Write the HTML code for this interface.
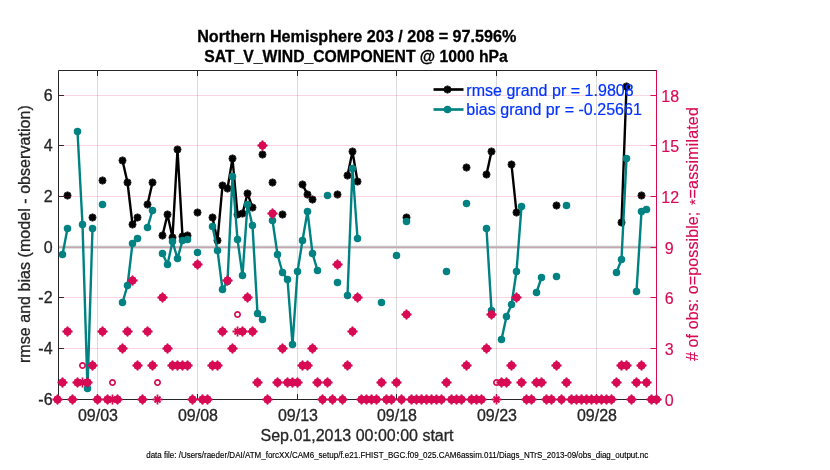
<!DOCTYPE html>
<html><head><meta charset="utf-8"><title>obs diag</title>
<style>html,body{margin:0;padding:0;background:#fff;width:830px;height:470px;overflow:hidden}</style>
</head><body>
<svg width="830" height="470" viewBox="0 0 830 470" style="position:absolute;left:0;top:0">
<defs>
<g id="a" stroke="#d70a53" stroke-width="1.8" fill="none"><path d="M-5 0H5M0 -5V5M-3 -3L3 3M-3 3L3 -3"/></g>
<circle id="c" r="2.65" stroke="#d70a53" stroke-width="1.7" fill="none"/>
<g id="d"><circle r="3.4" fill="#d70a53"/><path d="M-5 0L0 -5L5 0L0 5Z" fill="#d70a53"/><use href="#a"/></g>
<g id="b"><circle r="3.3" fill="#000"/><path d="M-3.9 0H3.9M0 -3.9V3.9M-2.85 -2.85L2.85 2.85M-2.85 2.85L2.85 -2.85" stroke="#000" stroke-width="2"/></g>
<circle id="t" r="3.75" fill="#008282"/>
</defs>
<rect width="830" height="470" fill="#fff"/>
<line x1="97.5" y1="70.5" x2="97.5" y2="399.5" stroke="#000" stroke-opacity="0.14"/>
<line x1="197.5" y1="70.5" x2="197.5" y2="399.5" stroke="#000" stroke-opacity="0.14"/>
<line x1="297.5" y1="70.5" x2="297.5" y2="399.5" stroke="#000" stroke-opacity="0.14"/>
<line x1="396.5" y1="70.5" x2="396.5" y2="399.5" stroke="#000" stroke-opacity="0.14"/>
<line x1="496.5" y1="70.5" x2="496.5" y2="399.5" stroke="#000" stroke-opacity="0.14"/>
<line x1="596.5" y1="70.5" x2="596.5" y2="399.5" stroke="#000" stroke-opacity="0.14"/>
<line x1="58.5" y1="247" x2="656.5" y2="247" stroke="#c4c4c4" stroke-width="2.75"/>
<path d="M122.50 160.50L127.50 182.50L132.50 224.50L137.50 217.50M147.50 204.50L152.50 182.50M162.50 235.50L167.50 214.50L172.50 237.50L177.50 149.50L182.50 236.50L187.50 235.50M212.50 217.50L217.50 240.50L222.50 185.50L227.50 188.50L232.50 158.50L237.50 214.50L242.50 213.50L247.50 193.50L252.50 207.50M302.50 184.50L307.50 194.50L312.50 199.50M347.50 175.50L352.50 151.50L357.50 181.50M486.50 174.50L491.50 151.50M511.50 164.50L516.50 212.50M621.50 222.50L626.50 86.50" fill="none" stroke="#000" stroke-width="2.4" stroke-linejoin="round"/>
<use href="#b" x="67.50" y="195.50"/>
<use href="#b" x="92.50" y="217.50"/>
<use href="#b" x="102.50" y="180.50"/>
<use href="#b" x="122.50" y="160.50"/>
<use href="#b" x="127.50" y="182.50"/>
<use href="#b" x="132.50" y="224.50"/>
<use href="#b" x="137.50" y="217.50"/>
<use href="#b" x="147.50" y="204.50"/>
<use href="#b" x="152.50" y="182.50"/>
<use href="#b" x="162.50" y="235.50"/>
<use href="#b" x="167.50" y="214.50"/>
<use href="#b" x="172.50" y="237.50"/>
<use href="#b" x="177.50" y="149.50"/>
<use href="#b" x="182.50" y="236.50"/>
<use href="#b" x="187.50" y="235.50"/>
<use href="#b" x="197.50" y="212.50"/>
<use href="#b" x="212.50" y="217.50"/>
<use href="#b" x="217.50" y="240.50"/>
<use href="#b" x="222.50" y="185.50"/>
<use href="#b" x="227.50" y="188.50"/>
<use href="#b" x="232.50" y="158.50"/>
<use href="#b" x="237.50" y="214.50"/>
<use href="#b" x="242.50" y="213.50"/>
<use href="#b" x="247.50" y="193.50"/>
<use href="#b" x="252.50" y="207.50"/>
<use href="#b" x="262.50" y="154.50"/>
<use href="#b" x="272.50" y="182.50"/>
<use href="#b" x="282.50" y="214.50"/>
<use href="#b" x="302.50" y="184.50"/>
<use href="#b" x="307.50" y="194.50"/>
<use href="#b" x="312.50" y="199.50"/>
<use href="#b" x="337.50" y="194.50"/>
<use href="#b" x="347.50" y="175.50"/>
<use href="#b" x="352.50" y="151.50"/>
<use href="#b" x="357.50" y="181.50"/>
<use href="#b" x="406.50" y="217.50"/>
<use href="#b" x="466.50" y="167.50"/>
<use href="#b" x="486.50" y="174.50"/>
<use href="#b" x="491.50" y="151.50"/>
<use href="#b" x="511.50" y="164.50"/>
<use href="#b" x="516.50" y="212.50"/>
<use href="#b" x="556.50" y="205.50"/>
<use href="#b" x="621.50" y="222.50"/>
<use href="#b" x="626.50" y="86.50"/>
<use href="#b" x="641.50" y="195.50"/>
<path d="M62.50 254.50L67.50 228.50M77.50 131.50L82.50 224.50L87.50 388.50L92.50 228.50M122.50 302.50L127.50 285.50L132.50 243.50L137.50 238.50M147.50 227.50L152.50 210.50M162.50 253.50L167.50 264.50L172.50 241.50L177.50 258.50L182.50 240.50L187.50 239.50M212.50 226.50L217.50 250.50L222.50 289.50L227.50 281.50L232.50 176.50L237.50 239.50L242.50 275.50L247.50 204.50L252.50 225.50L257.50 313.50L262.50 319.50M272.50 220.50L277.50 254.50L282.50 272.50L287.50 279.50L292.50 344.50L297.50 271.50L302.50 240.50L307.50 211.50L312.50 253.50L317.50 270.50M347.50 295.50L352.50 168.50L357.50 238.50M486.50 228.50L491.50 310.50M501.50 339.50L506.50 316.50L511.50 304.50L516.50 271.50L521.50 206.50M536.50 292.50L541.50 277.50M616.50 272.50L621.50 259.50L626.50 158.50M636.50 291.50L641.50 211.50L646.50 209.50" fill="none" stroke="#008282" stroke-width="2.4" stroke-linejoin="round"/>
<use href="#t" x="62.50" y="254.50"/>
<use href="#t" x="67.50" y="228.50"/>
<use href="#t" x="77.50" y="131.50"/>
<use href="#t" x="82.50" y="224.50"/>
<use href="#t" x="87.50" y="388.50"/>
<use href="#t" x="92.50" y="228.50"/>
<use href="#t" x="102.50" y="204.50"/>
<use href="#t" x="122.50" y="302.50"/>
<use href="#t" x="127.50" y="285.50"/>
<use href="#t" x="132.50" y="243.50"/>
<use href="#t" x="137.50" y="238.50"/>
<use href="#t" x="147.50" y="227.50"/>
<use href="#t" x="152.50" y="210.50"/>
<use href="#t" x="162.50" y="253.50"/>
<use href="#t" x="167.50" y="264.50"/>
<use href="#t" x="172.50" y="241.50"/>
<use href="#t" x="177.50" y="258.50"/>
<use href="#t" x="182.50" y="240.50"/>
<use href="#t" x="187.50" y="239.50"/>
<use href="#t" x="197.50" y="252.50"/>
<use href="#t" x="212.50" y="226.50"/>
<use href="#t" x="217.50" y="250.50"/>
<use href="#t" x="222.50" y="289.50"/>
<use href="#t" x="227.50" y="281.50"/>
<use href="#t" x="232.50" y="176.50"/>
<use href="#t" x="237.50" y="239.50"/>
<use href="#t" x="242.50" y="275.50"/>
<use href="#t" x="247.50" y="204.50"/>
<use href="#t" x="252.50" y="225.50"/>
<use href="#t" x="257.50" y="313.50"/>
<use href="#t" x="262.50" y="319.50"/>
<use href="#t" x="272.50" y="220.50"/>
<use href="#t" x="277.50" y="254.50"/>
<use href="#t" x="282.50" y="272.50"/>
<use href="#t" x="287.50" y="279.50"/>
<use href="#t" x="292.50" y="344.50"/>
<use href="#t" x="297.50" y="271.50"/>
<use href="#t" x="302.50" y="240.50"/>
<use href="#t" x="307.50" y="211.50"/>
<use href="#t" x="312.50" y="253.50"/>
<use href="#t" x="317.50" y="270.50"/>
<use href="#t" x="327.50" y="195.50"/>
<use href="#t" x="337.50" y="282.50"/>
<use href="#t" x="347.50" y="295.50"/>
<use href="#t" x="352.50" y="168.50"/>
<use href="#t" x="357.50" y="238.50"/>
<use href="#t" x="381.50" y="302.50"/>
<use href="#t" x="396.50" y="255.50"/>
<use href="#t" x="406.50" y="221.50"/>
<use href="#t" x="446.50" y="271.50"/>
<use href="#t" x="466.50" y="203.50"/>
<use href="#t" x="486.50" y="228.50"/>
<use href="#t" x="491.50" y="310.50"/>
<use href="#t" x="501.50" y="339.50"/>
<use href="#t" x="506.50" y="316.50"/>
<use href="#t" x="511.50" y="304.50"/>
<use href="#t" x="516.50" y="271.50"/>
<use href="#t" x="521.50" y="206.50"/>
<use href="#t" x="536.50" y="292.50"/>
<use href="#t" x="541.50" y="277.50"/>
<use href="#t" x="556.50" y="276.50"/>
<use href="#t" x="566.50" y="205.50"/>
<use href="#t" x="616.50" y="272.50"/>
<use href="#t" x="621.50" y="259.50"/>
<use href="#t" x="626.50" y="158.50"/>
<use href="#t" x="636.50" y="291.50"/>
<use href="#t" x="641.50" y="211.50"/>
<use href="#t" x="646.50" y="209.50"/>
<path d="M58.5 399.5V70.5H656.5M58.5 399.5H656.5" fill="none" stroke="#262626" stroke-width="1"/>
<path d="M97.5 399.5v-5.5M97.5 70.5v5.5M197.5 399.5v-5.5M197.5 70.5v5.5M297.5 399.5v-5.5M297.5 70.5v5.5M396.5 399.5v-5.5M396.5 70.5v5.5M496.5 399.5v-5.5M496.5 70.5v5.5M596.5 399.5v-5.5M596.5 70.5v5.5M58.5 95.5h5.5M58.5 145.5h5.5M58.5 196.5h5.5M58.5 297.5h5.5M58.5 348.5h5.5M58.5 399.5h5.5" stroke="#262626" stroke-width="1" fill="none"/>
<line x1="59.0" y1="95.5" x2="656.0" y2="95.5" stroke="#d70a53" stroke-opacity="0.17"/>
<line x1="59.0" y1="145.5" x2="656.0" y2="145.5" stroke="#d70a53" stroke-opacity="0.17"/>
<line x1="59.0" y1="196.5" x2="656.0" y2="196.5" stroke="#d70a53" stroke-opacity="0.17"/>
<line x1="59.0" y1="247.5" x2="656.0" y2="247.5" stroke="#d70a53" stroke-opacity="0.17"/>
<line x1="59.0" y1="297.5" x2="656.0" y2="297.5" stroke="#d70a53" stroke-opacity="0.17"/>
<line x1="59.0" y1="348.5" x2="656.0" y2="348.5" stroke="#d70a53" stroke-opacity="0.17"/>
<line x1="656.5" y1="70.0" x2="656.5" y2="400.0" stroke="#d70a53"/>
<path d="M656.5 399.5h-6M656.5 348.5h-6M656.5 297.5h-6M656.5 247.5h-6M656.5 196.5h-6M656.5 145.5h-6M656.5 95.5h-6" stroke="#d70a53" stroke-width="1" fill="none"/>
<line x1="433.5" y1="89.5" x2="463.5" y2="89.5" stroke="#000" stroke-width="2.67"/><use href="#b" x="447.5" y="89.5"/>
<line x1="433.5" y1="109.5" x2="463.5" y2="109.5" stroke="#008282" stroke-width="2.67"/><use href="#t" x="447.5" y="109.5"/>
<use href="#d" x="57.50" y="399.50"/>
<use href="#d" x="62.50" y="382.50"/>
<use href="#d" x="67.50" y="331.50"/>
<use href="#d" x="72.50" y="399.50"/>
<use href="#d" x="77.50" y="382.50"/>
<use href="#c" x="82.50" y="365.50"/>
<use href="#a" x="82.50" y="382.50"/>
<use href="#d" x="87.50" y="382.50"/>
<use href="#d" x="92.50" y="365.50"/>
<use href="#d" x="97.50" y="399.50"/>
<use href="#d" x="102.50" y="331.50"/>
<use href="#d" x="107.50" y="399.50"/>
<use href="#c" x="112.50" y="382.50"/>
<use href="#a" x="112.50" y="399.50"/>
<use href="#d" x="117.50" y="399.50"/>
<use href="#d" x="122.50" y="348.50"/>
<use href="#d" x="127.50" y="331.50"/>
<use href="#d" x="132.50" y="280.50"/>
<use href="#d" x="137.50" y="365.50"/>
<use href="#d" x="142.50" y="399.50"/>
<use href="#d" x="147.50" y="331.50"/>
<use href="#d" x="152.50" y="365.50"/>
<use href="#c" x="157.50" y="382.50"/>
<use href="#a" x="157.50" y="399.50"/>
<use href="#d" x="162.50" y="297.50"/>
<use href="#d" x="167.50" y="348.50"/>
<use href="#d" x="172.50" y="365.50"/>
<use href="#d" x="177.50" y="365.50"/>
<use href="#d" x="182.50" y="365.50"/>
<use href="#d" x="187.50" y="365.50"/>
<use href="#d" x="192.50" y="399.50"/>
<use href="#d" x="197.50" y="264.50"/>
<use href="#d" x="202.50" y="399.50"/>
<use href="#d" x="207.50" y="399.50"/>
<use href="#d" x="212.50" y="365.50"/>
<use href="#d" x="217.50" y="365.50"/>
<use href="#d" x="222.50" y="331.50"/>
<use href="#d" x="227.50" y="280.50"/>
<use href="#d" x="232.50" y="348.50"/>
<use href="#c" x="237.50" y="314.50"/>
<use href="#a" x="237.50" y="331.50"/>
<use href="#d" x="242.50" y="331.50"/>
<use href="#d" x="247.50" y="297.50"/>
<use href="#d" x="252.50" y="331.50"/>
<use href="#d" x="257.50" y="382.50"/>
<use href="#d" x="262.50" y="145.50"/>
<use href="#d" x="267.50" y="399.50"/>
<use href="#d" x="272.50" y="213.50"/>
<use href="#d" x="277.50" y="382.50"/>
<use href="#d" x="282.50" y="348.50"/>
<use href="#d" x="287.50" y="382.50"/>
<use href="#d" x="292.50" y="382.50"/>
<use href="#d" x="297.50" y="382.50"/>
<use href="#d" x="302.50" y="365.50"/>
<use href="#d" x="307.50" y="365.50"/>
<use href="#d" x="312.50" y="348.50"/>
<use href="#d" x="317.50" y="382.50"/>
<use href="#d" x="322.50" y="399.50"/>
<use href="#d" x="327.50" y="382.50"/>
<use href="#d" x="332.50" y="399.50"/>
<use href="#d" x="337.50" y="264.50"/>
<use href="#d" x="342.50" y="399.50"/>
<use href="#d" x="347.50" y="365.50"/>
<use href="#d" x="352.50" y="331.50"/>
<use href="#d" x="357.50" y="297.50"/>
<use href="#d" x="361.50" y="399.50"/>
<use href="#d" x="366.50" y="399.50"/>
<use href="#d" x="371.50" y="399.50"/>
<use href="#d" x="376.50" y="399.50"/>
<use href="#d" x="381.50" y="382.50"/>
<use href="#d" x="386.50" y="399.50"/>
<use href="#d" x="391.50" y="399.50"/>
<use href="#d" x="396.50" y="382.50"/>
<use href="#d" x="401.50" y="399.50"/>
<use href="#d" x="406.50" y="314.50"/>
<use href="#d" x="411.50" y="399.50"/>
<use href="#d" x="416.50" y="399.50"/>
<use href="#d" x="421.50" y="399.50"/>
<use href="#d" x="426.50" y="399.50"/>
<use href="#d" x="431.50" y="399.50"/>
<use href="#d" x="436.50" y="399.50"/>
<use href="#d" x="441.50" y="399.50"/>
<use href="#d" x="446.50" y="382.50"/>
<use href="#d" x="451.50" y="399.50"/>
<use href="#d" x="456.50" y="399.50"/>
<use href="#d" x="461.50" y="399.50"/>
<use href="#d" x="466.50" y="365.50"/>
<use href="#d" x="471.50" y="399.50"/>
<use href="#d" x="476.50" y="399.50"/>
<use href="#d" x="481.50" y="399.50"/>
<use href="#d" x="486.50" y="348.50"/>
<use href="#d" x="491.50" y="314.50"/>
<use href="#c" x="496.50" y="382.50"/>
<use href="#a" x="496.50" y="399.50"/>
<use href="#d" x="501.50" y="382.50"/>
<use href="#d" x="506.50" y="382.50"/>
<use href="#d" x="511.50" y="365.50"/>
<use href="#d" x="516.50" y="297.50"/>
<use href="#d" x="521.50" y="382.50"/>
<use href="#d" x="526.50" y="399.50"/>
<use href="#d" x="531.50" y="399.50"/>
<use href="#d" x="536.50" y="382.50"/>
<use href="#d" x="541.50" y="382.50"/>
<use href="#d" x="546.50" y="399.50"/>
<use href="#d" x="551.50" y="399.50"/>
<use href="#d" x="556.50" y="365.50"/>
<use href="#d" x="561.50" y="399.50"/>
<use href="#d" x="566.50" y="382.50"/>
<use href="#d" x="571.50" y="399.50"/>
<use href="#d" x="576.50" y="399.50"/>
<use href="#d" x="581.50" y="399.50"/>
<use href="#d" x="586.50" y="399.50"/>
<use href="#d" x="591.50" y="399.50"/>
<use href="#d" x="596.50" y="399.50"/>
<use href="#d" x="601.50" y="399.50"/>
<use href="#d" x="606.50" y="399.50"/>
<use href="#d" x="611.50" y="399.50"/>
<use href="#d" x="616.50" y="382.50"/>
<use href="#d" x="621.50" y="365.50"/>
<use href="#d" x="626.50" y="365.50"/>
<use href="#d" x="631.50" y="399.50"/>
<use href="#d" x="636.50" y="382.50"/>
<use href="#d" x="641.50" y="365.50"/>
<use href="#d" x="646.50" y="382.50"/>
<use href="#d" x="651.50" y="399.50"/>
<use href="#d" x="656.50" y="399.50"/>
<g font-family="Liberation Sans, Arial, Helvetica, sans-serif" font-size="16" fill="#262626" stroke="#262626" stroke-width="0.3">
<text x="197.2" y="42" textLength="319.2" lengthAdjust="spacingAndGlyphs" font-weight="bold" fill="#000" stroke="#000">Northern Hemisphere 203 / 208 = 97.596%</text>
<text x="204.3" y="62" textLength="303.5" lengthAdjust="spacingAndGlyphs" font-weight="bold" fill="#000" stroke="#000">SAT_V_WIND_COMPONENT @ 1000 hPa</text>
<text x="52.6" y="101.0" text-anchor="end">6</text>
<text x="52.6" y="151.0" text-anchor="end">4</text>
<text x="52.6" y="202.0" text-anchor="end">2</text>
<text x="52.6" y="253.0" text-anchor="end">0</text>
<text x="52.6" y="303.0" text-anchor="end">-2</text>
<text x="52.6" y="354.0" text-anchor="end">-4</text>
<text x="52.6" y="405.0" text-anchor="end">-6</text>
<text x="98.0" y="420.7" text-anchor="middle">09/03</text>
<text x="198.0" y="420.7" text-anchor="middle">09/08</text>
<text x="298.0" y="420.7" text-anchor="middle">09/13</text>
<text x="397.0" y="420.7" text-anchor="middle">09/18</text>
<text x="497.0" y="420.7" text-anchor="middle">09/23</text>
<text x="597.0" y="420.7" text-anchor="middle">09/28</text>
<text x="357" y="440.5" text-anchor="middle">Sep.01,2013 00:00:00 start</text>
<text transform="translate(30.4 0) rotate(-90)" x="-363.05" textLength="257.8" lengthAdjust="spacing">rmse and bias (model - observation)</text>
<g fill="#d70a53" stroke="#d70a53" stroke-width="0.15">
<text x="664.7" y="405.5">0</text>
<text x="664.7" y="354.5">3</text>
<text x="664.7" y="303.5">6</text>
<text x="664.7" y="253.5">9</text>
<text x="661.3" y="202.5">12</text>
<text x="661.3" y="151.5">15</text>
<text x="661.3" y="101.5">18</text>
<g transform="translate(698.3 0) rotate(-90)"><text x="-361" textLength="149.3" lengthAdjust="spacing">#&#160;of obs: o=possible;</text><text x="-202" y="1.6" font-size="15" text-anchor="middle">*</text><text x="-198.4" textLength="91.2" lengthAdjust="spacing">=assimilated</text></g>
</g>
<g fill="#0433ff" stroke="#0433ff" stroke-width="0.2"><text x="466.3" y="95.6" textLength="167.4" lengthAdjust="spacing">rmse grand pr = 1.9808</text><text x="466.3" y="115" textLength="175.6" lengthAdjust="spacing">bias grand pr = -0.25661</text></g>
</g>
<text font-family="Liberation Sans, Arial, Helvetica, sans-serif" font-size="8.5" fill="#000" stroke="#000" stroke-width="0.15" x="146.2" y="458.4" textLength="502" lengthAdjust="spacingAndGlyphs">data file: /Users/raeder/DAI/ATM_forcXX/CAM6_setup/f.e21.FHIST_BGC.f09_025.CAM6assim.011/Diags_NTrS_2013-09/obs_diag_output.nc</text>
</svg>
</body></html>
